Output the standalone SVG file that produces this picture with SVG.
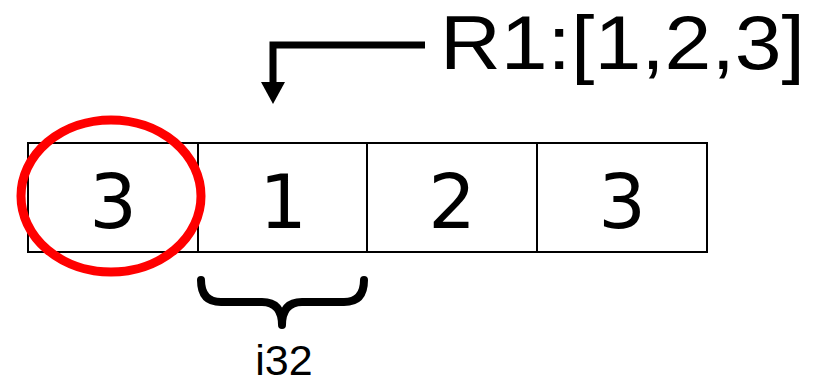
<svg xmlns="http://www.w3.org/2000/svg" width="818" height="384" viewBox="0 0 818 384">
<style>
.cell{fill:#fff;stroke:#000;stroke-width:2}
.num{font-family:"DejaVu Sans",Verdana,sans-serif;font-size:75px;fill:#000;text-anchor:middle}
.lbl{font-family:"Liberation Sans",Arial,sans-serif;fill:#000}
</style>
<g id="cell0"><rect class="cell" x="28" y="143" width="170" height="109"/><text class="num" x="113" y="228">3</text></g>
<g id="cell1"><rect class="cell" x="198" y="143" width="169" height="109"/><text class="num" x="283" y="228">1</text></g>
<g id="cell2"><rect class="cell" x="367" y="143" width="170" height="109"/><text class="num" x="452" y="228">2</text></g>
<g id="cell3"><rect class="cell" x="537" y="143" width="170" height="109"/><text class="num" x="622" y="228">3</text></g>
<g id="highlight"><ellipse cx="111" cy="196" rx="90" ry="76" fill="none" stroke="#f00" stroke-width="9"/></g>
<g id="label-r1"><text class="lbl" x="440" y="69" font-size="76" textLength="365" lengthAdjust="spacingAndGlyphs">R1:[1,2,3]</text></g>
<g id="connectors">
<path d="M425,45 H273 V84" fill="none" stroke="#000" stroke-width="7"/>
<path d="M261,82 L285,82 L273,104 Z" fill="#000"/>
</g>
<g id="brace"><path d="M201,280 Q201,302 221,302 H262 Q282,302 282,325 Q282,302 302,302 H344 Q364,302 364,280" fill="none" stroke="#000" stroke-width="8" stroke-linecap="round" stroke-linejoin="round"/></g>
<g id="label-i32"><text class="lbl" x="284" y="375" font-size="43" text-anchor="middle">i32</text></g>
</svg>
